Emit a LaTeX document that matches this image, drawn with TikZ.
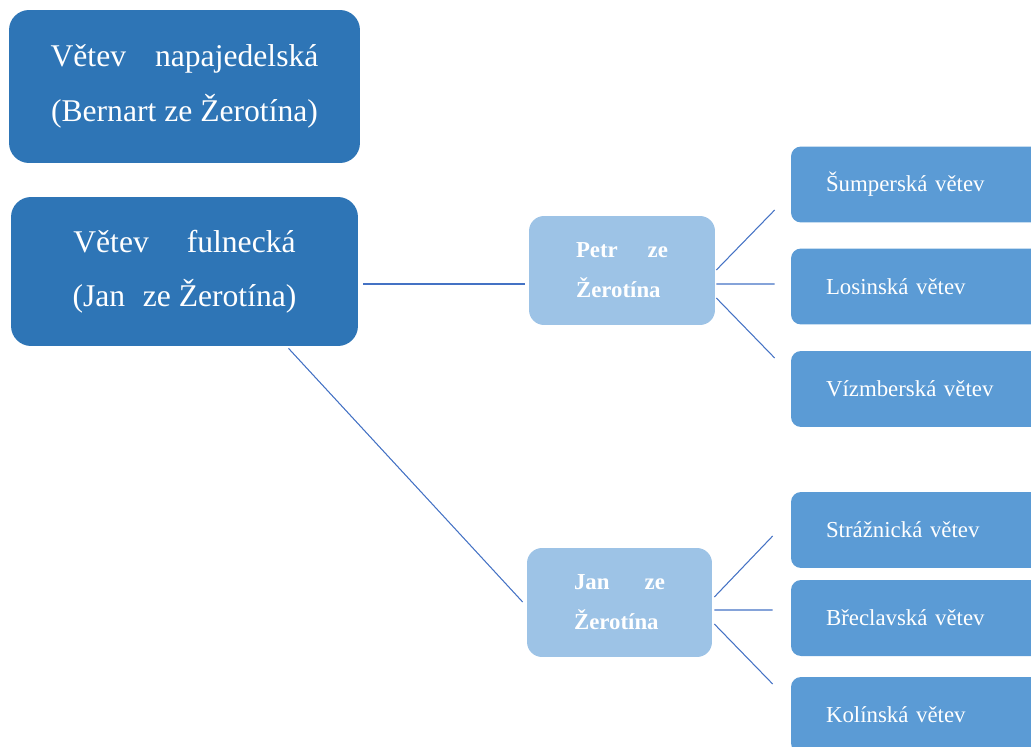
\documentclass[tikz,border=0pt]{standalone}
\usepackage{fontspec}
\setmainfont{Liberation Serif}
\definecolor{darkBlue}{HTML}{2E75B6}
\definecolor{midBlue}{HTML}{5B9BD5}
\definecolor{lightBlue}{HTML}{9DC3E6}
\definecolor{lineBlue}{HTML}{4472C4}

\begin{document}
\begin{tikzpicture}[x=0.02cm, y=-0.02cm]
  \tikzstyle{V}=[rectangle,rounded corners=0.4cm,fill=darkBlue,text=white,align=center,inner sep=0pt,font=\fontsize{18}{31}\selectfont]
  \tikzstyle{P}=[rectangle,rounded corners=0.3cm,fill=lightBlue,text=white,align=left,inner sep=0pt,minimum width=3.72cm,minimum height=2.18cm,font=\fontsize{13}{22.8}\selectfont\bfseries]
  \tikzstyle{L}=[rectangle,rounded corners=0.2cm,fill=midBlue,text=white,align=left,inner xsep=0.7cm,inner ysep=0pt,text width=3.8cm,minimum height=1.52cm,font=\fontsize{13}{16}\selectfont]
  \tikzstyle{link}=[draw=lineBlue,line width=0.6pt]

  \useasboundingbox (0,0) rectangle (1031,747);
  \clip (0,0) rectangle (1031,747);

  \node[V,minimum width=7.02cm,minimum height=3.06cm] at (184.5,86.5) (napajedla) {V\v{e}tev\hspace{16.5pt}napajedelsk\'a\\(Bernart ze \v{Z}erot\'ina)};
  \node[V,minimum width=6.94cm,minimum height=2.98cm] at (184.5,271.5) (fulnek) {V\v{e}tev\hspace{21.6pt}fulneck\'a\\(Jan\hspace{10pt}ze \v{Z}erot\'ina)};

  \node[P] at (622,270.5) (petr) {Petr\hspace{17pt}ze\\\v{Z}erot\'ina};
  \node[P,minimum width=3.70cm] at (619.5,602.5) (jan) {Jan\hspace{20pt}ze\\\v{Z}erot\'ina};

  \node[L] at (921,184.5) (sumperk) {\v{S}umpersk\'a v\v{e}tev};
  \node[L] at (921,286.5) (losiny) {Losinsk\'a v\v{e}tev};
  \node[L] at (921,389) (vizmberk) {V\'izmbersk\'a v\v{e}tev};
  \node[L] at (921,530) (straznice) {Str\'a\v{z}nick\'a v\v{e}tev};
  \node[L] at (921,618) (breclav) {B\v{r}eclavsk\'a v\v{e}tev};
  \node[L] at (921,715) (kolin) {Kol\'insk\'a v\v{e}tev};

  \draw[link] ([shift={(5,12.5)}]fulnek.east) -- ([shift={(-4,13.5)}]petr.west);
  \draw[link] ([shift={(104,2)}]fulnek.south) -- ([shift={(-4,-0.5)}]jan.west);

  \draw[link] ([shift={(1,-0.5)}]petr.east) -- ([shift={(-16,25.5)}]sumperk.west);
  \draw[link] ([shift={(1,13.5)}]petr.east) -- ([shift={(-16,-2.5)}]losiny.west);
  \draw[link] ([shift={(1,27.5)}]petr.east) -- ([shift={(-16,-31)}]vizmberk.west);

  \draw[link] ([shift={(2,-5.5)}]jan.east) -- ([shift={(-18,6)}]straznice.west);
  \draw[link] ([shift={(2,7.5)}]jan.east) -- ([shift={(-18,-8)}]breclav.west);
  \draw[link] ([shift={(2,21.5)}]jan.east) -- ([shift={(-18,-31)}]kolin.west);
\end{tikzpicture}
\end{document}
